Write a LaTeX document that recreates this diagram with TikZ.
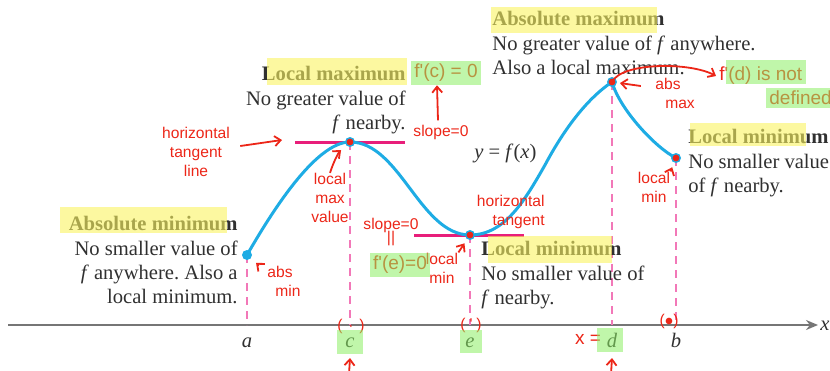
\documentclass[tikz,border=0pt]{standalone}
\usepackage{fontspec}
\setmainfont{Liberation Serif}
\newfontfamily\penfont{Liberation Sans}
\usepackage{xcolor}
\usetikzlibrary{arrows.meta, calc, positioning}
\frenchspacing

\definecolor{curveblue}{RGB}{30,172,228}
\definecolor{guidepink}{RGB}{242,120,184}
\definecolor{tanpink}{RGB}{232,30,122}
\definecolor{penred}{RGB}{236,38,24}
\definecolor{axisgray}{RGB}{118,118,118}
\definecolor{inkgray}{RGB}{48,48,48}
\definecolor{hiyellow}{RGB}{250,244,96}
\definecolor{higreen}{RGB}{140,238,100}

\tikzset{
  curve/.style={curveblue, line width=1.5pt},
  guide/.style={guidepink, line width=0.8pt, dash pattern=on 4pt off 3pt},
  tangent/.style={tanpink, line width=1.5pt},
  axis/.style={axisgray, line width=1pt, -{Stealth[length=6pt, width=5pt]}},
  blurb/.style={font=\fontsize{10.3}{12.2}\selectfont, text=inkgray, inner sep=0pt},
  tick/.style={font=\fontsize{10.3}{12.2}\selectfont\itshape, text=inkgray, inner sep=0pt},
  pen/.style={font=\penfont\fontsize{7.8}{9.5}\selectfont, text=penred, inner sep=0pt, align=center},
  penbig/.style={pen, font=\penfont\fontsize{9.5}{11}\selectfont, inner sep=1.5pt},
  penarrow/.style={penred, line width=0.9pt, -{Straight Barb[length=3pt, width=5pt]}},
  hlyellow/.style={fill=hiyellow, fill opacity=0.6},
  hlgreen/.style={fill=higreen, fill opacity=0.55},
  bluedot/.style={circle, fill=curveblue, inner sep=0pt, minimum size=5pt},
  reddot/.style={circle, fill=penred, inner sep=0pt, minimum size=3.4pt},
}

\begin{document}
\begin{tikzpicture}[x=0.5pt, y=-0.5pt]
  \useasboundingbox (0,0) rectangle (830,370);

  % points on the graph and the axis
  \coordinate (pa) at (247,255);
  \coordinate (pc) at (350,142);
  \coordinate (pe) at (470,235);
  \coordinate (pd) at (612,82);
  \coordinate (pb) at (676,158);
  \coordinate (axl) at (8,325);
  \coordinate (axr) at (818,325);
  \coordinate (tickrow) at (0,347);

  % x-axis
  \draw[axis] (axl) -- (axr);
  \node[tick, anchor=base east] (lx) at (830,330) {x};

  % dashed guides and tick labels
  \foreach \p/\t in {pa/a, pc/c, pe/e, pd/d, pb/b} {
    \draw[guide] (\p) -- (\p |- axl);
    \node[tick, anchor=base] (l\t) at (\p |- tickrow) {\t};
  }

  % horizontal tangents
  \draw[tangent] ($(pc)+(-55,0)$) -- ($(pc)+(55,0)$);
  \draw[tangent] ($(pe)+(-56,0)$) -- ($(pe)+(54,0)$);

  % y = f(x)
  \draw[curve] (pa) .. controls (270,215) and (315,142) .. (pc)
    .. controls (400,142) and (420,235) .. (pe)
    .. controls (505,235) and (525,200) .. (545,165)
    .. controls (562,133) and (585,100) .. (pd)
    .. controls (620,110) and (656,148) .. (pb);
  \node[blurb, anchor=base west] (yfx) at (474,158) {\textit{y} = \textit{f}(\textit{x})};

  \node[bluedot] (da) at (pa) {};
  \foreach \p in {pc, pe, pd, pb} {
    \node[bluedot] (b\p) at (\p) {};
    \node[reddot] (r\p) at (\p) {};
  }

  % printed captions
  \node[blurb, anchor=north east, align=right] (capc) at (406,66)
    {\textbf{Local maximum}\\No greater value of\\\textit{f} nearby.};
  \node[blurb, anchor=north east, align=right] (capa) at (238,216)
    {\textbf{Absolute minimum}\\No smaller value of\\\textit{f} anywhere. Also a\\local minimum.};
  \node[blurb, anchor=north west, align=left] (capd) at (492,11)
    {\textbf{Absolute maximum}\\No greater value of \textit{f} anywhere.\\Also a local maximum.};
  \node[blurb, anchor=north west, align=left] (cape) at (481,241)
    {\textbf{Local minimum}\\No smaller value of\\\textit{f} nearby.};
  \node[blurb, anchor=north west, align=left] (capb) at (688,129)
    {\textbf{Local minimum}\\No smaller value\\of \textit{f} nearby.};

  % handwritten notes
  \node[pen] (nhtl) at (196,152) {horizontal\\tangent\\line};
  \draw[penarrow] ($(nhtl.east)+(10,-6)$) -- ($(pc)+(-68,-2)$);
  \node[penbig] (nfc) at (446,73) {f'(c) = 0};
  \node[pen] (nslc) at (441,132) {slope=0};
  \draw[penarrow] (nslc.north) ++(-3,-4) -- (nfc.south -| 437,0);
  \node[pen] (nlmv) at (330,198) {local\\max\\value};
  \draw[penarrow, shorten >=6pt] (nlmv.north) to[bend left=15] (pc);
  \node[pen] (nabsa) at (280,281) {abs\\\hspace*{8pt}min};
  \draw[penarrow, shorten >=6pt] (nabsa.north west) -- (pa);
  \node[pen] (nsle) at (391,232) {slope=0\\[-3pt]||};
  \node[penbig] (nfe) at (400,265) {f'(e)=0};
  \node[pen] (nlme) at (442,268) {local\\min};
  \draw[penarrow, shorten >=5pt] (nlme.north east) -- (pe);
  \node[pen, anchor=east, align=right] (nhte) at (545,212) {horizontal\\tangent};
  \node[pen] (nabsd) at (668,93) {abs\\\hspace*{12pt}max};
  \draw[penarrow, shorten >=4pt] ($(nabsd.west)+(0,-7)$) -- (pd);
  \node[penbig, anchor=west] (nfd) at (716,76) {f'(d) is not};
  \node[penbig, anchor=west] (ndef) at (766,98) {defined};
  \draw[penarrow] (pd) .. controls (622,62) and (690,62) .. (nfd.west);
  \node[pen] (nlmb) at (654,187) {local\\min};
  \draw[penarrow, shorten >=5pt] (nlmb.north east) -- (pb);
  \node[pen] (nbrc) at (351,326) {(\hspace{3pt}$\cdot$\hspace{3pt})};
  \node[pen] (nbre) at (471,325) {(\hspace{2pt}'\hspace{2pt})};
  \node[pen] (nbrb) at (669,321) {($\bullet$)};
  \node[penbig, left=1pt of ld] (nxeq) {x =};
  \draw[penarrow] (349,374) -- (lc.south |- 0,358);
  \draw[penarrow] (611,374) -- (ld.south |- 0,358);

  % highlighter
  \fill[hlyellow] (267,58) rectangle (407,85);
  \fill[hlyellow] (60,207) rectangle (227,233);
  \fill[hlyellow] (491,7) rectangle (657,33);
  \fill[hlyellow] (488,236) rectangle (612,263);
  \fill[hlyellow] (690,123) rectangle (806,146);
  \fill[hlgreen] (nfc.south west) rectangle (nfc.north east);
  \fill[hlgreen] (nfe.south west) rectangle (nfe.north east);
  \fill[hlgreen] ($(nfd.south west)+(10,-4)$) rectangle ($(nfd.north east)+(0,-4)$);
  \fill[hlgreen] (ndef.south west) rectangle (ndef.north east);
  \fill[hlgreen] (337,330) rectangle (363,354);
  \fill[hlgreen] (460,330) rectangle (482,353);
  \fill[hlgreen] (597,328) rectangle (623,352);
\end{tikzpicture}
\end{document}
